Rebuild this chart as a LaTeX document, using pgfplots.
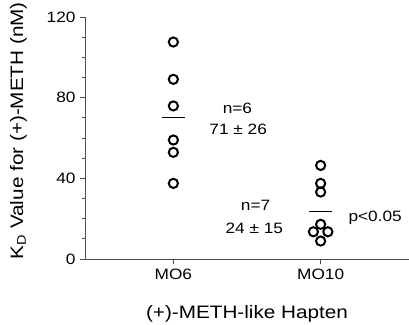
\documentclass[border=0pt]{standalone}
\usepackage{fontspec}
\setmainfont{Liberation Sans}[FakeStretch=1.15]
\usepackage{pgfplots}
\pgfplotsset{compat=1.18}
\begin{document}
\begin{tikzpicture}
\begin{axis}[
  scale only axis, width=324pt, height=242pt,
  xmin=-0.6, xmax=1.6, ymin=0, ymax=120,
  axis x line*=bottom, axis y line*=left,
  x axis line style={-, black!70, line width=0.8pt},
  y axis line style={-, black!70, line width=0.8pt},
  xtick={0,1}, xticklabels={MO6,MO10},
  ytick={0,40,80,120}, minor y tick num=3,
  tick align=outside,
  major tick length=5pt, minor tick length=3pt,
  tick style={black!70, line width=0.8pt},
  /pgf/number format/assume math mode=true,
  ticklabel style={font=\fontsize{15}{17}\selectfont},
  xticklabel style={yshift=-1pt},
  yticklabel style={xshift=-1pt},
  xlabel={(+)-METH-like Hapten},
  ylabel={K\textsubscript{D} Value for (+)-METH (nM)},
  label style={font=\fontsize{18}{20}\selectfont},
  xlabel style={at={(axis description cs:0.5,-0.227)}, anchor=center},
  ylabel style={at={(axis description cs:-0.205,0.53)}, anchor=center, rotate=0},
  clip=false,
]
\addplot[only marks, mark=o, mark size=4.6pt, mark options={line width=2pt, black}]
  coordinates {(0,107.6) (0,89.1) (0,75.9) (0,59.0) (0,52.9) (0,37.5)};
\addplot[only marks, mark=o, mark size=4.6pt, mark options={line width=2pt, black}]
  coordinates {(1,46.4) (1,37.5) (1,33.2) (1,17.2) (0.951,13.5) (1.049,13.5) (1,8.9)};
\addplot[black, line width=1.3pt] coordinates {(-0.078,70) (0.078,70)};
\addplot[black, line width=1.3pt] coordinates {(0.922,23.5) (1.078,23.5)};
\node[font=\fontsize{15}{17}\selectfont] at (axis cs:0.435,74.9) {n=6};
\node[font=\fontsize{15}{17}\selectfont] at (axis cs:0.44,64.3) {71 ± 26};
\node[font=\fontsize{15}{17}\selectfont] at (axis cs:0.558,26.8) {n=7};
\node[font=\fontsize{15}{17}\selectfont] at (axis cs:0.55,15.4) {24 ± 15};
\node[font=\fontsize{15}{17}\selectfont] at (axis cs:1.37,20.6) {p<0.05};
\end{axis}
\pgfresetboundingbox
\path (current axis.south west) ++(-85pt,-65pt) rectangle ++(409pt,324pt);
\end{tikzpicture}
\end{document}
